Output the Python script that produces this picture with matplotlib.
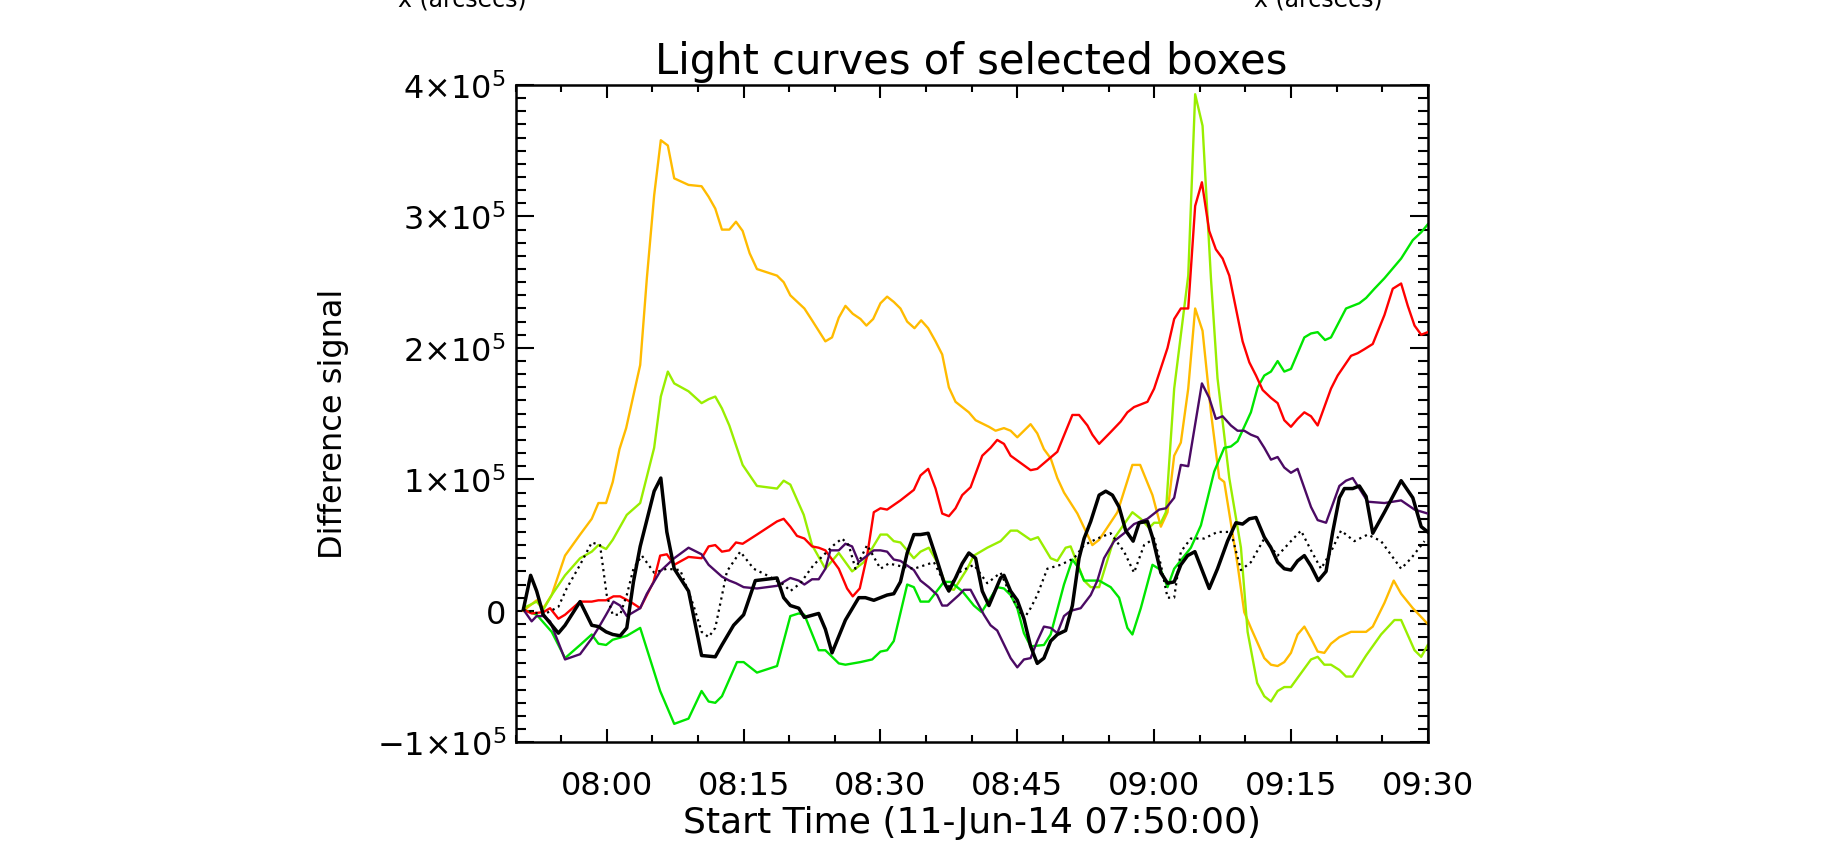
import numpy as np
import matplotlib
matplotlib.use("Agg")
import matplotlib.pyplot as plt
from matplotlib.ticker import MultipleLocator

plt.rcParams['font.family'] = ['DejaVu Sans']
plt.rcParams['mathtext.fontset'] = 'dejavusans'

# time in minutes after 07:50:00, values in units of 1e3 (difference signal)
orange = [(0.85, 0), (2.31, 8), (3.04, 2), (3.96, 12), (5.42, 42), (7.07, 58), (8.35, 70), (9.08, 82),
          (9.92, 82), (10.65, 98), (11.39, 123), (12.12, 139), (13.66, 187), (14.39, 253), (15.19, 316),
          (15.92, 358), (16.69, 354), (17.39, 329), (18.96, 324), (20.39, 323), (21.16, 315), (21.89, 306),
          (22.62, 290), (23.43, 290), (24.16, 296), (24.89, 289), (25.66, 272), (26.46, 260), (28.66, 255),
          (29.39, 250), (30.12, 240), (31.66, 230), (32.50, 221), (33.96, 205), (34.69, 208), (35.43, 223),
          (36.16, 232), (36.96, 226), (37.81, 222), (38.46, 217), (39.20, 222), (40.00, 234), (40.73, 239),
          (41.46, 235), (42.19, 230), (42.93, 220), (43.73, 215), (44.46, 221), (45.23, 215), (46.04, 205),
          (46.77, 195), (47.50, 170), (48.23, 159), (49.69, 151), (50.43, 145), (51.89, 140), (52.62, 137),
          (53.54, 139), (54.27, 137), (55.00, 132), (56.46, 142), (57.19, 135), (57.92, 123), (58.66, 116),
          (59.39, 101), (60.12, 90), (61.59, 74), (63.23, 50), (63.97, 54), (65.98, 75), (67.62, 111),
          (68.47, 111), (69.82, 88), (70.74, 64), (71.47, 75), (72.20, 118), (72.93, 128), (73.74, 169),
          (74.50, 230), (75.31, 213), (76.23, 151), (77.14, 101), (77.69, 98), (79.15, 35), (79.88, -1),
          (80.61, -13), (82.08, -36), (82.81, -41), (83.54, -42), (84.27, -39), (85.00, -32), (85.73, -18),
          (86.47, -12), (87.20, -21), (87.93, -31), (88.66, -32), (89.39, -25), (90.31, -20), (91.59, -16),
          (93.24, -16), (93.97, -12), (95.25, 6), (96.27, 23), (97.08, 13), (98.36, 2), (100.0, -10)]

chartreuse = [(0.85, 2), (2.31, 7), (3.04, 1), (3.96, 12), (5.42, 27), (7.07, 40), (8.35, 45), (9.08, 50),
              (9.92, 47), (10.65, 54), (12.19, 73), (13.66, 82), (15.19, 124), (15.92, 163), (16.69, 182),
              (17.39, 173), (18.96, 167), (20.39, 158), (21.16, 161), (21.89, 163), (22.62, 154), (23.43, 141),
              (24.16, 126), (24.89, 111), (26.46, 95), (28.66, 93), (29.39, 99), (30.12, 96), (31.59, 73),
              (32.50, 50), (33.96, 32), (35.43, 44), (36.89, 30), (38.17, 37), (40.00, 58), (40.73, 58),
              (41.46, 53), (42.19, 52), (43.66, 40), (44.39, 45), (45.30, 48), (46.22, 37), (47.32, 17),
              (48.05, 16), (49.51, 32), (50.24, 42), (51.71, 48), (53.17, 53), (54.27, 61), (55.00, 61),
              (56.46, 54), (57.27, 56), (58.66, 40), (59.39, 38), (60.30, 48), (60.85, 49), (62.32, 23),
              (63.05, 18), (63.97, 18), (65.61, 55), (67.62, 75), (68.54, 70), (69.45, 63), (70.00, 67),
              (70.74, 67), (71.29, 75), (72.20, 169), (73.74, 255), (74.50, 393), (75.31, 369), (76.23, 253),
              (76.95, 177), (78.24, 101), (79.52, 48), (80.25, -16), (81.30, -55), (82.08, -65), (82.81, -69),
              (83.54, -61), (84.27, -58), (85.00, -58), (85.73, -51), (87.20, -37), (87.93, -35), (88.66, -41),
              (89.39, -41), (90.31, -45), (91.04, -50), (91.77, -50), (93.24, -34), (94.88, -18), (96.35, -7),
              (97.08, -7), (98.55, -30), (99.28, -35), (100.0, -26)]

green = [(0.85, 1), (2.31, -3), (3.96, -16), (5.42, -36), (7.07, -26), (8.35, -18), (9.08, -25), (9.92, -26),
         (10.65, -22), (12.19, -19), (13.66, -13), (15.85, -61), (17.39, -86), (18.96, -82), (20.39, -61),
         (21.16, -69), (21.89, -70), (22.62, -65), (24.27, -39), (25.0, -39), (26.46, -47), (28.66, -42),
         (30.12, -4), (31.04, -2), (31.66, -3), (33.23, -30), (33.96, -30), (35.43, -40), (36.16, -41),
         (37.81, -39), (39.09, -37), (40.00, -31), (40.73, -30), (41.46, -23), (42.93, 20), (43.66, 18),
         (44.39, 7), (45.30, 7), (46.95, 22), (47.68, 22), (48.96, 15), (50.24, 4), (51.09, -1), (52.80, 18),
         (53.54, 17), (54.27, 12), (55.00, 2), (55.73, -17), (56.46, -27), (57.92, -26), (58.66, -18),
         (60.12, 20), (61.04, 39), (61.77, 32), (62.32, 23), (63.97, 23), (65.24, 18), (66.16, 10),
         (67.07, -13), (67.62, -18), (68.54, 2), (69.82, 35), (70.74, 31), (71.47, 18), (72.20, 32),
         (74.03, 48), (75.13, 65), (76.59, 106), (77.69, 124), (78.42, 125), (79.15, 129), (80.61, 151),
         (81.35, 170), (82.08, 179), (82.81, 182), (83.54, 190), (84.27, 182), (85.00, 184), (86.47, 208),
         (87.20, 211), (87.93, 212), (88.74, 206), (89.39, 208), (91.04, 230), (91.77, 232), (92.50, 234),
         (93.24, 238), (94.15, 245), (95.25, 253), (97.08, 268), (98.36, 282), (99.28, 288), (100.0, 294)]

red = [(0.85, 1), (1.76, -2), (3.04, -1), (3.78, 2), (4.69, -6), (5.42, -3), (7.07, 7), (8.35, 7), (9.08, 8),
       (9.92, 8), (10.73, 11), (11.46, 11), (12.56, 7), (13.66, 2), (15.12, 22), (15.85, 42), (16.58, 43),
       (17.39, 35), (18.96, 41), (20.39, 40), (21.16, 49), (21.89, 50), (22.62, 45), (23.43, 46), (24.16, 52),
       (24.89, 51), (26.46, 58), (28.66, 68), (29.39, 70), (30.12, 64), (30.85, 57), (31.66, 55), (32.50, 49),
       (33.23, 48), (33.96, 46), (35.43, 32), (36.34, 17), (36.96, 11), (37.73, 17), (38.54, 42), (39.27, 75),
       (40.00, 78), (40.73, 77), (42.19, 84), (43.66, 92), (44.39, 103), (45.23, 108), (46.04, 93),
       (46.77, 74), (47.50, 72), (48.23, 78), (48.96, 88), (49.88, 94), (51.16, 118), (52.07, 124),
       (52.80, 130), (53.54, 127), (54.27, 118), (56.46, 107), (57.19, 108), (59.39, 121), (61.04, 149),
       (61.77, 149), (62.69, 141), (63.23, 134), (63.97, 127), (65.24, 136), (66.34, 144), (67.07, 151),
       (67.80, 155), (69.27, 159), (70.00, 169), (71.47, 200), (72.20, 222), (72.93, 230), (73.74, 230),
       (74.50, 308), (75.24, 326), (76.04, 289), (76.77, 275), (77.51, 268), (78.24, 255), (78.97, 230),
       (79.70, 205), (80.44, 189), (81.17, 179), (81.90, 168), (82.81, 162), (83.54, 158), (84.27, 145),
       (85.00, 140), (85.73, 146), (86.47, 151), (87.20, 148), (87.93, 141), (89.39, 169), (90.12, 179),
       (91.59, 194), (92.32, 196), (93.05, 199), (93.97, 203), (95.25, 225), (96.16, 245), (97.08, 249),
       (97.81, 232), (98.55, 217), (99.28, 210), (100.0, 212)]

purple = [(0.85, 1), (1.76, -8), (2.31, -4), (3.04, -4), (3.78, -8), (5.42, -37), (7.07, -33), (8.35, -21),
          (9.08, -13), (9.92, -3), (10.73, 7), (11.46, 4), (12.19, -4), (13.66, 2), (14.39, 13), (15.85, 30),
          (17.39, 40), (18.96, 48), (20.39, 43), (21.16, 35), (22.62, 26), (23.43, 23), (24.16, 21), (25.0, 18),
          (26.46, 17), (28.66, 19), (30.12, 25), (31.04, 23), (31.66, 20), (32.50, 24), (33.23, 24),
          (33.96, 32), (34.51, 46), (35.43, 46), (36.16, 51), (36.89, 49), (37.62, 37), (38.54, 42),
          (39.27, 46), (40.00, 46), (40.73, 45), (41.46, 39), (42.19, 38), (43.66, 31), (44.39, 23),
          (45.30, 18), (46.22, 12), (46.77, 4), (47.32, 4), (48.60, 12), (49.15, 16), (49.88, 16),
          (51.34, -3), (52.07, -11), (52.80, -15), (54.27, -36), (55.00, -43), (55.73, -37), (56.46, -36),
          (57.19, -23), (57.92, -12), (58.66, -13), (59.39, -17), (60.12, -4), (60.85, 0), (61.95, 2),
          (63.05, 12), (63.78, 23), (64.51, 40), (65.61, 53), (66.71, 59), (67.80, 66), (69.27, 70),
          (70.55, 77), (71.29, 78), (72.20, 86), (72.93, 111), (73.74, 110), (75.24, 173), (76.04, 162),
          (76.77, 146), (77.51, 148), (78.42, 141), (79.15, 137), (79.88, 137), (80.61, 134), (81.35, 132),
          (82.08, 124), (82.81, 115), (83.54, 117), (84.27, 109), (85.00, 105), (85.73, 108), (87.20, 79),
          (87.93, 69), (88.85, 67), (90.31, 95), (91.04, 99), (91.77, 101), (93.42, 83), (95.25, 82),
          (97.08, 84), (98.55, 77), (100.0, 74)]

black = [(0.85, 1), (1.65, 27), (2.31, 15), (3.04, -3), (4.69, -17), (5.42, -11), (7.07, 7), (8.35, -11),
         (9.08, -12), (9.92, -16), (10.65, -18), (11.46, -19), (12.19, -13), (12.92, 22), (13.66, 49),
         (15.19, 91), (15.92, 101), (16.58, 60), (17.39, 32), (18.96, 15), (20.39, -34), (21.89, -35),
         (22.62, -26), (23.90, -11), (25.0, -3), (26.28, 23), (28.66, 25), (29.39, 10), (30.12, 4), (31.04, 2),
         (31.66, -5), (33.23, -2), (33.96, -14), (34.69, -32), (36.16, -7), (37.62, 10), (38.35, 10),
         (39.27, 8), (40.73, 12), (41.46, 13), (42.19, 22), (42.93, 44), (43.66, 58), (44.39, 58), (45.23, 59),
         (46.04, 42), (46.95, 22), (47.50, 15), (48.23, 25), (48.96, 36), (49.69, 44), (50.43, 40),
         (51.16, 15), (51.89, 4), (53.17, 25), (53.54, 27), (54.27, 15), (55.00, 8), (55.73, -6), (56.46, -27),
         (57.19, -40), (57.92, -36), (58.66, -23), (59.39, -18), (60.30, -15), (61.04, 4), (61.77, 40),
         (62.32, 55), (63.05, 68), (63.97, 88), (64.70, 91), (65.43, 88), (66.16, 79), (66.89, 61),
         (67.70, 53), (68.36, 67), (69.27, 68), (69.82, 56), (70.74, 29), (71.47, 21), (72.20, 22),
         (72.93, 35), (73.67, 42), (74.47, 45), (75.31, 30), (76.04, 17), (76.95, 32), (78.05, 53),
         (78.97, 67), (79.70, 66), (80.44, 70), (81.17, 71), (82.08, 56), (82.81, 48), (83.54, 37),
         (84.27, 32), (85.00, 31), (85.73, 38), (86.47, 42), (87.20, 34), (88.00, 23), (88.85, 30),
         (89.58, 60), (90.31, 86), (90.86, 93), (91.77, 93), (92.50, 95), (93.24, 87), (93.97, 59),
         (95.25, 75), (97.08, 99), (98.36, 86), (99.28, 64), (100.0, 60)]

dotted = [(0.85, 1), (3.04, -3), (4.69, 3), (5.60, 17), (7.07, 35), (8.35, 52), (9.26, 50), (9.99, 12),
          (10.65, -3), (11.46, -3), (12.19, 12), (12.92, 32), (13.84, 42), (15.19, 29), (16.58, 32),
          (18.05, 31), (19.51, 4), (20.39, -16), (21.16, -20), (21.89, -13), (23.17, 30), (24.63, 45),
          (26.10, 32), (27.56, 27), (29.39, 20), (30.12, 15), (31.22, 21), (32.68, 35), (33.42, 40),
          (34.88, 50), (35.79, 55), (36.52, 50), (37.26, 32), (38.54, 50), (40.00, 32), (40.91, 36),
          (42.19, 34), (43.66, 32), (45.86, 37), (47.32, 17), (48.78, 30), (50.24, 35), (51.71, 21),
          (53.17, 29), (54.27, 12), (55.73, -6), (56.46, 2), (57.19, 12), (58.29, 32), (59.76, 35),
          (61.22, 40), (62.32, 50), (63.78, 55), (65.24, 59), (66.71, 45), (67.80, 29), (68.90, 50),
          (70.00, 55), (70.74, 35), (71.47, 10), (72.20, 10), (72.93, 45), (74.03, 55), (75.49, 55),
          (76.95, 60), (78.42, 60), (79.52, 31), (80.61, 37), (82.08, 55), (83.54, 42), (85.00, 53),
          (86.10, 61), (87.20, 46), (88.30, 32), (89.39, 45), (90.49, 61), (91.95, 53), (93.42, 58),
          (94.88, 53), (97.08, 32), (98.18, 40), (99.64, 53)]

x_tick_pos = [10, 25, 40, 55, 70, 85, 100]
x_tick_labels = ["08:00", "08:15", "08:30", "08:45", "09:00", "09:15", "09:30"]
y_tick_pos = [-1e5, 0, 1e5, 2e5, 3e5, 4e5]
y_tick_labels = ["\u22121\u00d710$^{5}$", "0", "1\u00d710$^{5}$", "2\u00d710$^{5}$",
                 "3\u00d710$^{5}$", "4\u00d710$^{5}$"]

fig = plt.figure(figsize=(18.48, 8.45), dpi=100)
ax = fig.add_axes([0.2790, 0.1204, 0.4936, 0.7778])

def draw(series, **kw):
    arr = np.array(series, dtype=float)
    ax.plot(arr[:, 0], arr[:, 1] * 1e3, **kw)

draw(orange, color="#ffbb00", lw=1.7, zorder=2)
draw(chartreuse, color="#99ee00", lw=1.7, zorder=2)
draw(green, color="#00e600", lw=1.7, zorder=2)
draw(red, color="#ff0000", lw=1.7, zorder=3)
draw(purple, color="#4b0a64", lw=1.7, zorder=3)
draw(dotted, color="black", lw=1.6, linestyle=(0, (1, 1.8)), zorder=4)
draw(black, color="black", lw=2.5, zorder=5)

ax.set_xlim(0, 100)
ax.set_ylim(-1e5, 4e5)
ax.set_xticks(x_tick_pos)
ax.set_xticklabels(x_tick_labels)
ax.set_yticks(y_tick_pos)
ax.set_yticklabels(y_tick_labels)
ax.xaxis.set_minor_locator(MultipleLocator(5))
ax.yaxis.set_minor_locator(MultipleLocator(1e4))

for s in ax.spines.values():
    s.set_linewidth(1.8)

ax.tick_params(axis='x', which='major', direction='in', length=9.5, width=1.5,
               top=True, bottom=True, labelsize=23, pad=20)
ax.tick_params(axis='x', which='minor', direction='in', length=5, width=1.5, top=True, bottom=True)
ax.tick_params(axis='y', which='major', direction='in', length=13, width=1.5,
               left=True, right=True, labelsize=23, pad=7)
ax.tick_params(axis='y', which='minor', direction='in', length=7, width=1.5, left=True, right=True)

ax.set_title("Light curves of selected boxes", fontsize=30, pad=9)
ax.set_xlabel("Start Time (11-Jun-14 07:50:00)", fontsize=26, labelpad=3)
ax.set_ylabel("Difference signal", fontsize=23)
ax.yaxis.set_label_coords(-0.183, 0.486)

# cut-off axis labels of the panels above
fig.text(462 / 1848, 1 - 6 / 845, "x (arcsecs)", fontsize=17, ha='center', va='baseline')
fig.text(1318 / 1848, 1 - 6 / 845, "x (arcsecs)", fontsize=17, ha='center', va='baseline')

fig.savefig("out.png", dpi=100)
